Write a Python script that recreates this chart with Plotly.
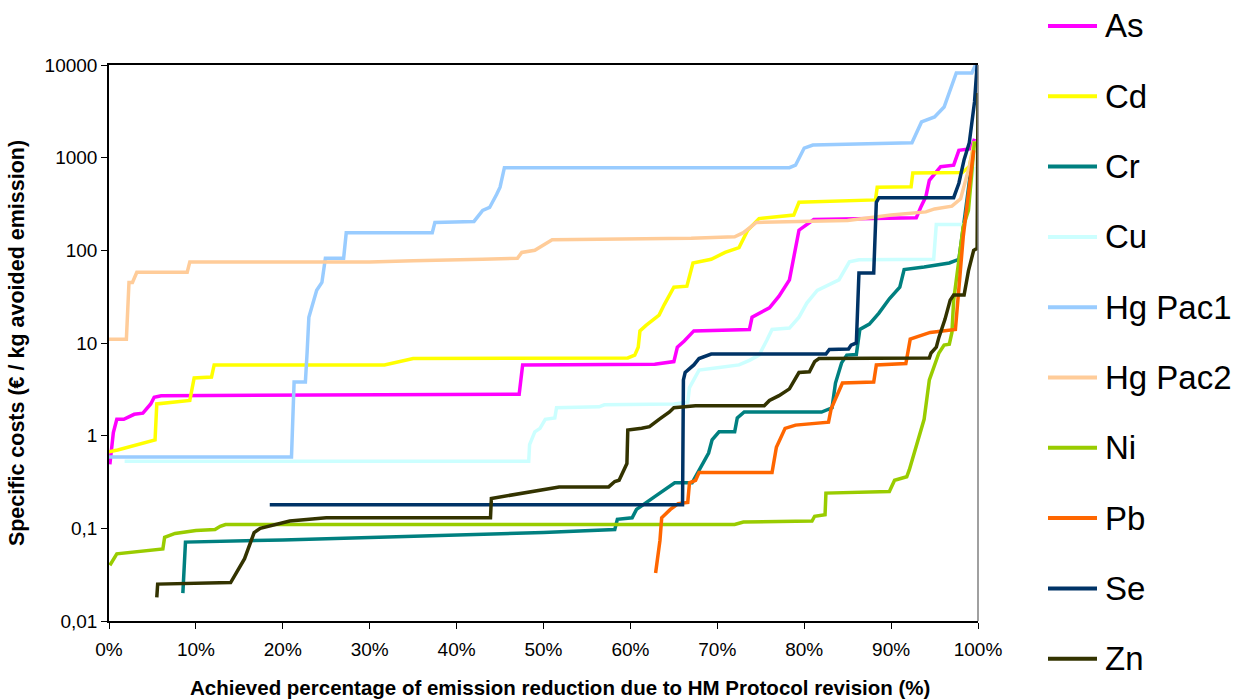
import plotly.graph_objects as go

names = ["As", "Cd", "Cr", "Cu", "Hg Pac1", "Hg Pac2", "Ni", "Pb", "Se", "Zn"]
colors = ["#FF00FF", "#FFFF00", "#008080", "#CCFFFF", "#99CCFF", "#FFCC99",
          "#99CC00", "#FF6600", "#003366", "#333300"]

as_x = [0.1, 0.5, 0.9, 1.7, 2.9, 3.9, 4.8, 5.2, 6, 47.2, 47.6, 62.8, 65, 65.4, 66.2, 67.3, 73.7, 74.0, 76, 77.1,
        78.3, 78.9, 79.4, 81.1, 92.9, 93.4, 94, 94.4, 95.7, 97.2, 97.8, 99.2, 99.6]
as_y = [0.49, 1.08, 1.5, 1.5, 1.7, 1.75, 2.2, 2.6, 2.7, 2.8, 5.8, 5.9, 6.3, 9, 10.5, 13.5, 14, 19, 24, 32,
        48, 90, 165, 215, 225, 290, 380, 570, 800, 830, 1200, 1250, 1600]

cd_x = [0, 1, 5.3, 5.5, 9.3, 9.8, 11.8, 12.1, 31.7, 35, 59.7, 60.5, 60.9, 61.1, 61.8, 63.3, 63.9, 65, 66.5, 67.2,
        69.3, 70.9, 72.5, 73.5, 74.8, 78.8, 79.4, 88.2, 88.4, 92.3, 92.5, 98.2, 99.0, 99.6]
cd_y = [0.67, 0.7, 0.9, 2.2, 2.4, 4.2, 4.3, 5.8, 5.8, 6.8, 6.9, 7.4, 9, 13.5, 15.5, 20, 26, 40, 41, 73,
        80, 95, 107, 165, 220, 240, 330, 350, 480, 485, 685, 690, 800, 1500]

cr_x = [8.5, 8.8, 20, 30, 40, 50, 58.2, 58.5, 60.2, 60.7, 62.8, 65.1, 67.1, 68, 69, 69.4, 70.2, 72, 72.3, 73.1,
        82, 83.2, 83.6, 84.3, 84.9, 86, 86.4, 87.5, 88.6, 89.8, 91, 91.5, 93.8, 96.7, 97.8, 98.5, 99.3]
cr_y = [0.02, 0.071, 0.075, 0.08, 0.085, 0.09, 0.097, 0.125, 0.13, 0.16, 0.22, 0.31, 0.31, 0.45, 0.65, 0.9, 1.1, 1.1, 1.55, 1.8,
        1.8, 2.0, 3.7, 6.1, 7.4, 7.5, 14, 16, 21, 30, 40, 62, 66, 73, 80, 240, 900]

cu_x = [1.8, 48.3, 48.4, 49, 49.6, 50.2, 51.3, 51.5, 56.4, 57, 65, 66.6, 66.8, 67.9, 70, 72.5, 73.7, 74.8, 75.7, 76.3,
        78.3, 79.4, 80.3, 81.5, 84, 85.2, 86.3, 94.9, 95.2, 98.5, 99.5]
cu_y = [0.53, 0.53, 0.8, 1.1, 1.2, 1.5, 1.55, 2.0, 2.05, 2.15, 2.2, 2.3, 3.3, 5.1, 5.4, 5.8, 6.5, 7.4, 10.7, 14,
        14.5, 19, 27, 37, 48, 75, 79, 80, 190, 190, 800]

hg1_x = [0, 21.0, 21.3, 22.6, 22.8, 23.0, 23.9, 24.5, 24.9, 27.0, 27.3, 37.2, 37.5, 42, 43, 43.8, 44.6, 45, 45.5, 78.3,
         79, 80, 81, 92.4, 93.5, 95, 96.1, 97.5, 99.3, 99.7]
hg1_y = [0.59, 0.59, 3.8, 3.8, 8, 19, 37, 45, 82, 82, 155, 155, 200, 205, 270, 290, 400, 480, 780, 780,
         830, 1270, 1370, 1450, 2430, 2750, 3520, 8200, 8200, 10000]

hg2_x = [0, 2.0, 2.3, 2.7, 3.2, 9.0, 9.3, 30, 35, 40.5, 43, 47, 47.5, 49, 51, 67, 72, 73, 74.5, 85,
         90, 94, 95, 97, 98, 99, 99.6]
hg2_y = [11, 11, 45, 45, 58, 58, 75, 75, 77, 78, 80, 82, 95, 100, 130, 135, 140, 155, 200, 210,
         240, 260, 280, 300, 360, 800, 1500]

ni_x = [0.1, 0.9, 6.2, 6.4, 7.6, 10, 12.2, 12.8, 13.4, 72, 73, 80.9, 81.2, 82.4, 82.5, 89.8, 90.4, 91.8, 92.1, 92.9,
        93.8, 94.4, 95.5, 96.1, 96.7, 97, 97.2, 98.3, 98.9, 99.6]
ni_y = [0.04, 0.053, 0.06, 0.08, 0.088, 0.095, 0.097, 0.105, 0.11, 0.11, 0.117, 0.12, 0.135, 0.14, 0.24, 0.25, 0.33, 0.36, 0.43, 0.75,
        1.5, 4.0, 7.8, 9.5, 9.7, 13, 29, 180, 270, 1500]

pb_x = [62.9, 63.4, 63.6, 64.6, 65.5, 66.6, 66.8, 67.5, 67.9, 76.3, 76.8, 77.8, 79, 82.8, 83.1, 84, 84.4, 88, 88.3, 91.7,
        92.2, 94.5, 97.4, 98.3, 99.5]
pb_y = [0.033, 0.074, 0.13, 0.16, 0.185, 0.19, 0.31, 0.33, 0.4, 0.4, 0.75, 1.2, 1.3, 1.4, 1.95, 3, 3.7, 3.8, 5.8, 6,
        11, 13, 14, 140, 1200]

se_x = [18.5, 66, 66.1, 66.3, 67.3, 67.9, 69.3, 82.5, 82.9, 85.1, 85.4, 86, 86.3, 88, 88.3, 88.6, 97.2, 97.8, 98.4, 99,
        99.6, 99.9]
se_y = [0.18, 0.18, 4.0, 4.8, 5.8, 6.8, 7.6, 7.6, 8.5, 8.6, 9.5, 10, 57, 57, 330, 370, 370, 530, 950, 1450,
        4000, 10000]

zn_x = [5.5, 5.6, 14, 15.6, 16.7, 17.4, 20.8, 25, 43.9, 44, 51.8, 57.5, 58.2, 58.7, 59.6, 59.7, 61.3, 62.2, 63.3, 64.5,
        65, 67.5, 75.4, 76, 77.1, 78.3, 78.9, 79.4, 80.6, 81.2, 81.7, 94.4, 94.6, 95.2, 95.5, 96.2, 96.8, 97.2, 98.4, 98.9,
        99.5, 99.9, 100]
zn_y = [0.018, 0.025, 0.026, 0.047, 0.09, 0.1, 0.12, 0.13, 0.13, 0.21, 0.28, 0.28, 0.32, 0.33, 0.5, 1.15, 1.2, 1.25, 1.5, 1.8,
        2.0, 2.1, 2.1, 2.4, 2.7, 3.2, 4.0, 4.8, 4.9, 6.3, 6.8, 6.9, 7.8, 9, 11.5, 18, 29, 33, 33, 60,
        100, 105, 5000]

series_x = [as_x, cd_x, cr_x, cu_x, hg1_x, hg2_x, ni_x, pb_x, se_x, zn_x]
series_y = [as_y, cd_y, cr_y, cu_y, hg1_y, hg2_y, ni_y, pb_y, se_y, zn_y]

x_tick_vals = [0, 10, 20, 30, 40, 50, 60, 70, 80, 90, 100]
x_tick_text = ["0%", "10%", "20%", "30%", "40%", "50%", "60%", "70%", "80%", "90%", "100%"]
y_tick_vals = [0.01, 0.1, 1, 10, 100, 1000, 10000]
y_tick_text = ["0,01", "0,1", "1", "10", "100", "1000", "10000"]

FONT = "Arial, Liberation Sans, sans-serif"
W, H = 1253, 699
ML, MR, MT, MB = 109, 275, 65, 78
PW, PH = W - ML - MR, H - MT - MB


def px_to_paper_x(px):
    return (px - ML) / PW


def px_to_paper_y(py):
    return (H - MB - py) / PH


fig = go.Figure()
for n, c, xs, ys in zip(names, colors, series_x, series_y):
    fig.add_trace(go.Scatter(x=xs, y=ys, mode="lines", name=n,
                             line=dict(color=c, width=3.5)))

# manual legend (right side, one row per series)
shapes = [dict(type="line", xref="paper", yref="paper", x0=1, x1=1, y0=0, y1=1,
               line=dict(color="#808080", width=1.5))]
annotations = []
for i, (n, c) in enumerate(zip(names, colors)):
    yy = px_to_paper_y(26 + 70.3 * i)
    shapes.append(dict(type="line", xref="paper", yref="paper",
                       x0=px_to_paper_x(1048), x1=px_to_paper_x(1097), y0=yy, y1=yy,
                       line=dict(color=c, width=4)))
    annotations.append(dict(text=n, xref="paper", yref="paper", x=px_to_paper_x(1103), y=yy,
                            xanchor="left", yanchor="middle", showarrow=False,
                            font=dict(size=33, family=FONT, color="black")))

# x-axis title as annotation (centred as in the reference)
annotations.append(dict(text="<b>Achieved percentage of emission reduction due to HM Protocol revision (%)</b>",
                        xref="paper", yref="paper", x=px_to_paper_x(560), y=px_to_paper_y(687),
                        xanchor="center", yanchor="middle", showarrow=False,
                        font=dict(size=20.5, family=FONT, color="black")))

fig.update_layout(
    width=W, height=H,
    margin=dict(l=ML, r=MR, t=MT, b=MB, autoexpand=False),
    paper_bgcolor="white", plot_bgcolor="white",
    font=dict(family=FONT, color="black"),
    showlegend=False,
    xaxis=dict(range=[0, 100], tickvals=x_tick_vals, ticktext=x_tick_text,
               showline=True, linecolor="black", linewidth=1.5, mirror=True,
               ticks="outside", ticklen=6, tickcolor="black", ticklabelstandoff=4,
               showgrid=False, zeroline=False, tickfont=dict(size=19)),
    yaxis=dict(type="log", range=[-2, 4], tickvals=y_tick_vals, ticktext=y_tick_text,
               showline=True, linecolor="black", linewidth=1.5,
               ticks="outside", ticklen=6, tickcolor="black",
               showgrid=False, zeroline=False, tickfont=dict(size=19),
               title=dict(text="<b>Specific costs (€ / kg avoided emission)</b>",
                          font=dict(size=21.5), standoff=14)),
    shapes=shapes,
    annotations=annotations,
)

fig.write_html("out.html")
